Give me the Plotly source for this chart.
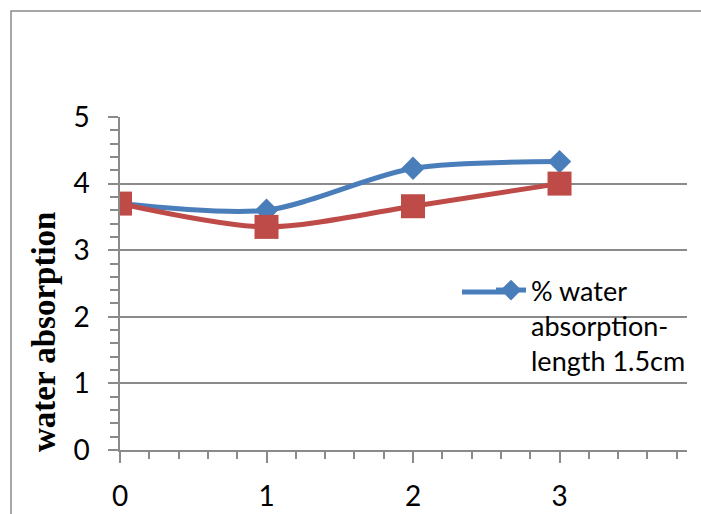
import plotly.graph_objects as go

# Sample index on the x axis
samples = [0, 1, 2, 3]
# % water absorption for each series
absorption_15cm = [3.70, 3.60, 4.23, 4.33]
absorption_other = [3.70, 3.35, 3.66, 4.00]

series_name = "% water<br>absorption-<br>length 1.5cm"
y_title = "water absorption"
x_ticks = [0, 1, 2, 3]
y_ticks = [0, 1, 2, 3, 4, 5]

W, H = 701, 514
L, R, T, B = 120, 14, 117, 64
pw, ph = W - L - R, H - T - B

axis_grey = "#8a8a8a"
blue, red = "#4A7EBB", "#BE4B48"
tick_font = dict(family="Lato, 'Open Sans', sans-serif", size=28, color="black")

fig = go.Figure()
fig.add_trace(go.Scatter(
    x=samples, y=absorption_15cm, name=series_name, mode="lines+markers",
    line=dict(color=blue, width=5, shape="spline", smoothing=0.8),
    marker=dict(symbol="diamond", size=18, color=blue),
))
fig.add_trace(go.Scatter(
    x=samples, y=absorption_other, name="", mode="lines+markers", showlegend=False,
    line=dict(color=red, width=5, shape="spline", smoothing=0.8),
    marker=dict(symbol="square", size=24, color=red),
))

common_x = dict(range=[0, 3.87], showgrid=False, zeroline=False, automargin=False,
                showline=True, linecolor=axis_grey, linewidth=1.5)
common_y = dict(range=[0, 5], zeroline=False, automargin=False,
                showline=True, linecolor=axis_grey, linewidth=1.5)

fig.update_layout(
    width=W, height=H,
    margin=dict(l=L, r=R, t=T, b=B, autoexpand=False),
    paper_bgcolor="white", plot_bgcolor="white",
    xaxis=dict(**common_x, tickmode="array", tickvals=x_ticks,
               ticks="outside", ticklen=11, tickwidth=1.5, tickcolor=axis_grey,
               minor=dict(dtick=0.2, tick0=0, ticks="outside", ticklen=7,
                          tickwidth=1.5, tickcolor=axis_grey),
               tickfont=tick_font, ticklabelstandoff=10),
    xaxis2=dict(**common_x, overlaying="x", showticklabels=False,
                tickmode="linear", dtick=0.2, tick0=0,
                ticks="inside", ticklen=7, tickwidth=1.5, tickcolor=axis_grey),
    yaxis=dict(**common_y, tickmode="array", tickvals=y_ticks,
               showgrid=True, gridcolor=axis_grey, gridwidth=1.5,
               ticks="outside", ticklen=10, tickwidth=1.5, tickcolor=axis_grey,
               minor=dict(dtick=0.2, tick0=0, ticks="outside", ticklen=8,
                          tickwidth=1.5, tickcolor=axis_grey),
               tickfont=tick_font, ticklabelstandoff=13),
    yaxis2=dict(**common_y, overlaying="y", showticklabels=False, showgrid=False,
                tickmode="linear", dtick=0.2, tick0=0,
                ticks="inside", ticklen=8, tickwidth=1.5, tickcolor=axis_grey),
    legend=dict(x=(491 - L) / pw, xanchor="left", y=1 - (266 - T) / ph, yanchor="top",
                valign="top", bgcolor="rgba(0,0,0,0)", tracegroupgap=0,
                font=dict(family="Lato, 'Open Sans', sans-serif", size=27, color="black")),
    showlegend=True,
)

# Longer legend key line, as in spreadsheet-style legends
fig.add_shape(
    type="line", xref="paper", yref="paper",
    x0=(462 - L) / pw, x1=(505 - L) / pw,
    y0=(450 - 292) / ph, y1=(450 - 292) / ph,
    line=dict(color=blue, width=5), layer="below",
)

# Rotated axis title
fig.add_annotation(
    text=y_title, textangle=-90, showarrow=False,
    xref="paper", yref="paper",
    x=(44 - L) / pw, y=(450 - 332) / ph, xanchor="center", yanchor="middle",
    font=dict(family="Liberation Serif, serif", size=33, color="black", weight="bold"),
)

# Chart frame running off the page edges
fig.add_shape(
    type="rect", xref="paper", yref="paper",
    x0=(11 - L) / pw, x1=(W + 20 - L) / pw,
    y0=1 - (H + 20 - T) / ph, y1=1 - (11 - T) / ph,
    line=dict(color=axis_grey, width=1.5), fillcolor="rgba(0,0,0,0)",
)

fig.write_html("out.html")
